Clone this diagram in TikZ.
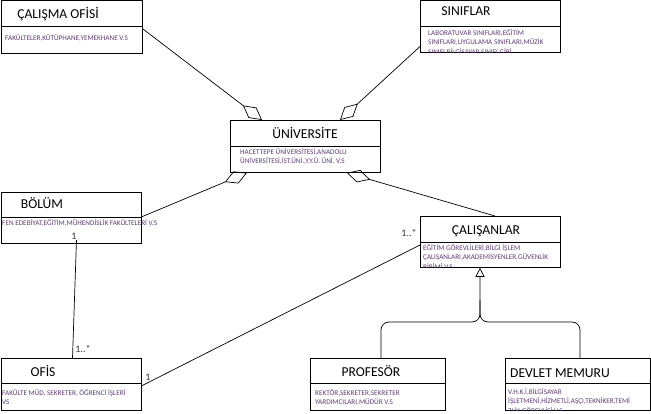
\documentclass[tikz,border=0pt]{standalone}
\usepackage{fontspec}
\setmainfont{Carlito}
\usetikzlibrary{arrows.meta}
\definecolor{detailcol}{RGB}{95,60,115}
\definecolor{labelcol}{RGB}{50,50,50}
\tikzset{
  classbox/.style={draw=black, line width=0.8pt, anchor=north west, inner sep=0pt, fill=white},
  divider/.style={draw=black, line width=0.8pt},
  titletext/.style={inner sep=0pt, anchor=center, text height=8.9pt, text depth=0pt, font=\fontsize{13.6}{15}\selectfont, text=black},
  detailtext/.style={inner sep=0pt, anchor=north west, align=left, font=\fontsize{7.2}{9.5}\selectfont, text=detailcol},
  multlabel/.style={inner sep=0pt, font=\fontsize{10}{12}\selectfont, text=labelcol},
  conn/.style={draw=black, line width=0.7pt},
  aggr/.style={conn, -{Diamond[open, length=24pt, width=13pt, line width=0.7pt]}},
  inherit/.style={conn, rounded corners=8pt, -{Triangle[open, length=9pt, width=9pt, line width=0.7pt]}}
}
\begin{document}
\begin{tikzpicture}[x=1pt,y=-1pt]
\useasboundingbox (0,0) rectangle (651,414);

% ---------- boxes ----------
\node[classbox, minimum width=141pt, minimum height=52.5pt] (calisma) at (0.5,0.5) {};
\node[classbox, minimum width=140pt, minimum height=51.5pt] (siniflar) at (420,0.5) {};
\node[classbox, minimum width=150pt, minimum height=52pt] (univ) at (230,120) {};
\node[classbox, minimum width=140pt, minimum height=51pt] (bolum) at (0.5,192) {};
\node[classbox, minimum width=140pt, minimum height=51pt] (calisanlar) at (420,216) {};
\node[classbox, minimum width=140pt, minimum height=52pt] (ofis) at (0.5,358) {};
\node[classbox, minimum width=135pt, minimum height=52pt] (profesor) at (310,358) {};
\node[classbox, minimum width=145pt, minimum height=52pt] (memur) at (505,358) {};

% ---------- dividers ----------
\draw[divider] ([yshift=-26pt]calisma.north west) -- ([yshift=-26pt]calisma.north east);
\draw[divider] ([yshift=-26pt]siniflar.north west) -- ([yshift=-26pt]siniflar.north east);
\draw[divider] ([yshift=-26pt]univ.north west) -- ([yshift=-26pt]univ.north east);
\draw[divider] ([yshift=-25pt]bolum.north west) -- ([yshift=-25pt]bolum.north east);
\draw[divider] ([yshift=-26pt]calisanlar.north west) -- ([yshift=-26pt]calisanlar.north east);
\draw[divider] ([yshift=-25pt]ofis.north west) -- ([yshift=-25pt]ofis.north east);
\draw[divider] ([yshift=-25pt]profesor.north west) -- ([yshift=-25pt]profesor.north east);
\draw[divider] ([yshift=-25pt]memur.north west) -- ([yshift=-25pt]memur.north east);

% ---------- titles ----------
\node[titletext] (tcalisma) at (58,14.5) {ÇALIŞMA OFİSİ};
\node[titletext] (tsiniflar) at (466,11.5) {SINIFLAR};
\node[titletext] (tuniv) at (305,134.5) {ÜNİVERSİTE};
\node[titletext] (tbolum) at (42,204) {BÖLÜM};
\node[titletext] (tcalisanlar) at (486,230.5) {ÇALIŞANLAR};
\node[titletext] (tofis) at (43,372.5) {OFİS};
\node[titletext] (tprofesor) at (371,372.5) {PROFESÖR};
\node[titletext] (tmemur) at (560,373.5) {DEVLET MEMURU};

% ---------- details ----------
\node[detailtext] (dcalisma) at (5,33.6) {\strut FAKÜLTELER,KÜTÜPHANE,YEMEKHANE V.S};
\begin{scope}
\clip (siniflar.north west) rectangle (siniflar.south east);
\node[detailtext] (dsiniflar) at (428,28.6) {\strut LABORATUVAR SINIFLARI,EĞİTİM\\SINIFLARI,UYGULAMA SINIFLARI,MÜZİK\\SINIFI,BİLGİSAYAR SINIFI GİBİ};
\end{scope}
\node[detailtext] (duniv) at (240,147.6) {\strut HACETTEPE ÜNİVERSİTESİ,ANADOLU\\ÜNİVERSİTESİ,İST.ÜNİ.,Y.Y.Ü. ÜNİ. V.S};
\node[detailtext] (dbolum) at (2,218.6) {\strut FEN EDEBİYAT,EĞİTİM,MÜHENDİSLİK FAKÜLTELERİ V.S};
\begin{scope}
\clip (calisanlar.north west) rectangle (calisanlar.south east);
\node[detailtext] (dcalisanlar) at (423,243.6) {\strut EĞİTİM GÖREVLİLERİ,BİLGİ İŞLEM\\ÇALIŞANLARI,AKADEMİSYENLER,GÜVENLİK\\BİRİMİ V.S};
\end{scope}
\node[detailtext] (dofis) at (2,388.6) {\strut FAKÜLTE MÜD, SEKRETER, ÖĞRENCİ İŞLERİ\\VS};
\node[detailtext] (dprofesor) at (315,388.6) {\strut REKTÖR,SEKRETER,SEKRETER\\YARDIMCILARI,MÜDÜR V.S};
\begin{scope}
\clip (memur.north west) rectangle (memur.south east);
\node[detailtext] (dmemur) at (508,387.6) {\strut V.H.K.İ,BİLGİSAYAR\\İŞLETMENİ,HİZMETLİ,AŞÇI,TEKNİKER,TEMİ\\ZLİK GÖREVLİSİ V.S};
\end{scope}

% ---------- aggregations ----------
\draw[aggr] ([yshift=-28pt]calisma.north east) -- ([xshift=32pt]univ.north west);
\draw[aggr] ([yshift=-46pt]siniflar.north west) -- ([xshift=110pt]univ.north west);
\draw[aggr] ([yshift=-25pt]bolum.north east) -- ([xshift=17pt]univ.south west);
\draw[aggr] ([xshift=75pt]calisanlar.north west) -- ([xshift=117pt]univ.south west);

% ---------- associations ----------
\draw[conn] ([xshift=76pt,yshift=4pt]bolum.south west) -- ([xshift=72pt]ofis.north west);
\node[multlabel] (m1) at (74,236) {1};
\node[multlabel] (m2) at (83,349) {1..*};
\draw[conn] ([yshift=-28pt]ofis.north east) -- ([yshift=-29pt]calisanlar.north west);
\node[multlabel] (m3) at (148,377) {1};
\node[multlabel] (m4) at (409,233) {1..*};

% ---------- inheritance ----------
\coordinate (jn) at (480,322);
\draw[inherit] ([xshift=71pt]profesor.north west) |- (jn) -- ([xshift=60pt]calisanlar.south west);
\draw[conn, rounded corners=8pt] ([xshift=75pt]memur.north west) |- (jn) -- (480,300);
\end{tikzpicture}
\end{document}
